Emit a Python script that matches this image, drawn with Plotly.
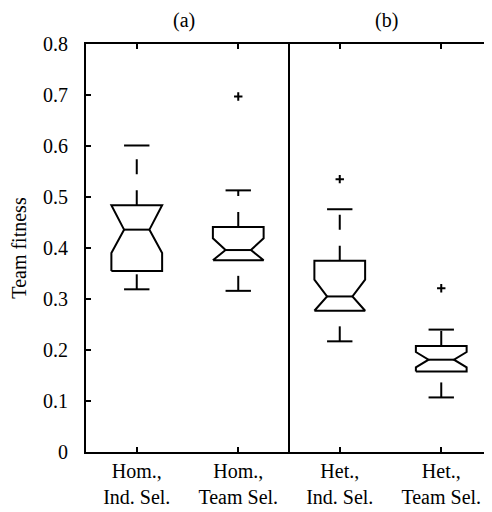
import plotly.graph_objects as go

# ---------------- data ----------------
categories = ["Hom.,<br>Ind. Sel.", "Hom.,<br>Team Sel.", "Het.,<br>Ind. Sel.", "Het.,<br>Team Sel."]
positions = [1, 2, 3, 4]
lower_whisker = [0.319, 0.316, 0.217, 0.107]
q1 = [0.355, 0.376, 0.277, 0.158]
median = [0.436, 0.396, 0.305, 0.181]
q3 = [0.484, 0.441, 0.375, 0.208]
upper_whisker = [0.601, 0.513, 0.476, 0.240]
notch_low = [0.390, 0.376, 0.277, 0.166]    # where the notch meets the box side
notch_high = [0.484, 0.419, 0.338, 0.196]
outlier_pos = [2, 3, 4]
outlier_val = [0.697, 0.535, 0.321]
panel_titles = ["(a)", "(b)"]
panel_title_pos = [1.47, 3.46]
y_ticks = [0, 0.1, 0.2, 0.3, 0.4, 0.5, 0.6, 0.7, 0.8]

# ---------------- style ----------------
BOX_W = 0.5
CAP_W = 0.25
LW = 2
FS = 20
FONT = "Liberation Serif, Times New Roman, serif"

fig = go.Figure()

for p, lw_, a, m, b, uw, nl, nh in zip(positions, lower_whisker, q1, median, q3,
                                       upper_whisker, notch_low, notch_high):
    left, right = p - BOX_W / 2, p + BOX_W / 2
    inset = BOX_W / 4
    xs = [left, left, left + inset, left, left, right, right, right - inset, right, right, left]
    ys = [a, nl, m, nh, b, b, nh, m, nl, a, a]
    fig.add_trace(go.Scatter(x=xs, y=ys, mode="lines",
                             line=dict(color="black", width=LW), hoverinfo="skip"))
    # median line
    fig.add_trace(go.Scatter(x=[left + inset, right - inset], y=[m, m], mode="lines",
                             line=dict(color="black", width=LW), hoverinfo="skip"))
    # whisker caps
    for v in (lw_, uw):
        fig.add_trace(go.Scatter(x=[p - CAP_W / 2, p + CAP_W / 2], y=[v, v], mode="lines",
                                 line=dict(color="black", width=LW), hoverinfo="skip"))
    # dashed whiskers (drawn upward: lower whisker -> q1, q3 -> upper whisker)
    for y0, y1 in ((lw_, a), (b, uw)):
        fig.add_trace(go.Scatter(x=[p, p], y=[y0, y1], mode="lines",
                                 line=dict(color="black", width=LW, dash="15px,16px"),
                                 hoverinfo="skip"))

# outliers
fig.add_trace(go.Scatter(x=outlier_pos, y=outlier_val, mode="markers",
                         marker=dict(symbol="cross-thin-open", size=6, color="black",
                                     line=dict(color="black", width=2)),
                         hoverinfo="skip"))

# invisible trace to carry the right-hand tick axis
fig.add_trace(go.Scatter(x=[None], y=[None], yaxis="y2", hoverinfo="skip"))

# divider between the two panels
fig.add_shape(type="line", xref="x", yref="paper", x0=2.5, x1=2.5, y0=0, y1=1,
              line=dict(color="black", width=LW))

for t, xp in zip(panel_titles, panel_title_pos):
    fig.add_annotation(text=t, x=xp, xref="x", y=1.0, yref="paper", yshift=24,
                       yanchor="middle", xanchor="center",
                       showarrow=False, font=dict(family=FONT, size=FS, color="black"))

# the page body adds an 8px margin, so the figure is sized to compensate
fig.update_layout(
    width=484, height=504,
    margin=dict(l=78, r=0, t=36, b=60, autoexpand=False),
    paper_bgcolor="white", plot_bgcolor="white",
    showlegend=False,
    font=dict(family=FONT, size=FS, color="black"),
    xaxis=dict(range=[0.5, 4.5], tickvals=positions, ticktext=categories,
               automargin=False,
               showgrid=False, zeroline=False, showline=True, linecolor="black",
               linewidth=LW, mirror="ticks", ticks="inside", ticklen=5, tickwidth=LW,
               tickcolor="black", ticklabelstandoff=0,
               tickfont=dict(family=FONT, size=FS, color="black")),
    yaxis=dict(range=[0, 0.8], tickvals=y_ticks, showgrid=False, zeroline=False,
               automargin=False,
               showline=True, linecolor="black", linewidth=LW, ticks="inside",
               ticklen=5, tickwidth=LW, tickcolor="black", ticklabelstandoff=12,
               tickfont=dict(family=FONT, size=FS, color="black"),
               title=dict(text="Team fitness", standoff=14,
                          font=dict(family=FONT, size=FS, color="black"))),
    yaxis2=dict(range=[0, 0.8], tickvals=y_ticks, overlaying="y", side="right",
                automargin=False,
                showgrid=False, zeroline=False, showline=False, ticks="inside",
                ticklen=5, tickwidth=LW, tickcolor="black", showticklabels=False),
)

fig.write_html("out.html")
